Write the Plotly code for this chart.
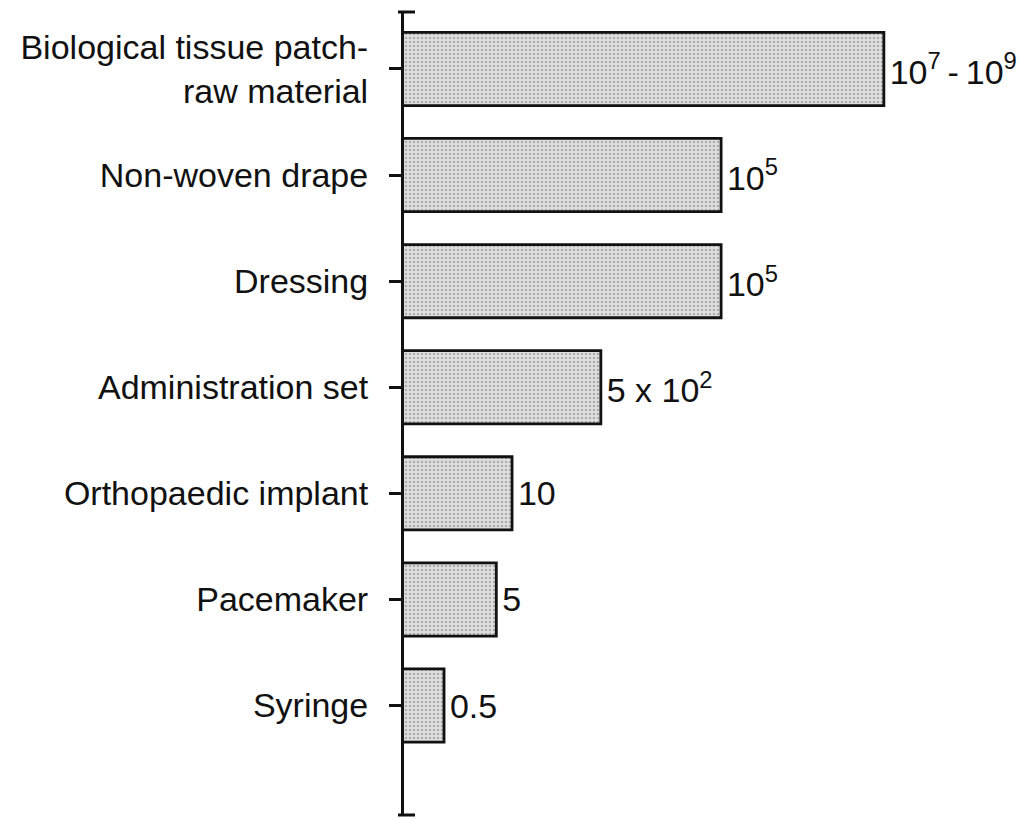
import plotly.graph_objects as go

# product categories, top to bottom
products = [
    "Biological tissue patch-<br>raw material",
    "Non-woven drape",
    "Dressing",
    "Administration set",
    "Orthopaedic implant",
    "Pacemaker",
    "Syringe",
]
# values drawn on a log scale (first bar is a 10^7 - 10^9 range, drawn at ~1.3e8)
values = [1.3e8, 1e5, 1e5, 500, 10, 5, 0.5]
value_labels = [
    "10<sup>7</sup>\u2009-\u200910<sup>9</sup>",
    "10<sup>5</sup>",
    "10<sup>5</sup>",
    "5 x 10<sup>2</sup>",
    "10",
    "5",
    "0.5",
]

FONT = "Liberation Sans, Arial, Helvetica, sans-serif"
FSIZE = 34

fig = go.Figure()
fig.add_trace(
    go.Bar(
        x=values,
        y=products,
        orientation="h",
        text=["\u200a" + t for t in value_labels],
        textposition="outside",
        constraintext="none",
        cliponaxis=False,
        textfont=dict(family=FONT, size=FSIZE, color="#111111"),
        marker=dict(
            color="#d8d8d8",
            line=dict(color="#111111", width=2.8),
            pattern=dict(
                shape=".",
                bgcolor="#e0e0e0",
                fgcolor="#7a7a7a",
                size=4,
                solidity=0.35,
            ),
        ),
        hoverinfo="skip",
    )
)

# small caps at both ends of the vertical axis
for yy in (0, 1):
    fig.add_shape(
        type="line", xref="paper", yref="paper",
        xsizemode="pixel", xanchor=0, x0=-6, x1=11,
        y0=yy, y1=yy,
        line=dict(color="#111111", width=3),
    )

# the page body adds an 8 px offset, so margins are trimmed for it
fig.update_layout(
    width=1030,
    height=819,
    margin=dict(l=396, r=8, t=4, b=12),
    paper_bgcolor="white",
    plot_bgcolor="white",
    bargap=0.31,
    showlegend=False,
    font=dict(family=FONT, size=FSIZE, color="#111111"),
)
fig.update_xaxes(
    type="log",
    range=[-1.067, 10.91],
    visible=False,
    showgrid=False,
    zeroline=False,
)
fig.update_yaxes(
    type="category",
    categoryorder="array",
    categoryarray=products,
    range=[7.032, -0.537],
    showline=True,
    linecolor="#111111",
    linewidth=3,
    ticks="outside",
    ticklen=12,
    tickwidth=3,
    tickcolor="#111111",
    ticklabelstandoff=14,
    showgrid=False,
    zeroline=False,
    tickfont=dict(family=FONT, size=FSIZE, color="#111111"),
)

fig.write_html("out.html")
